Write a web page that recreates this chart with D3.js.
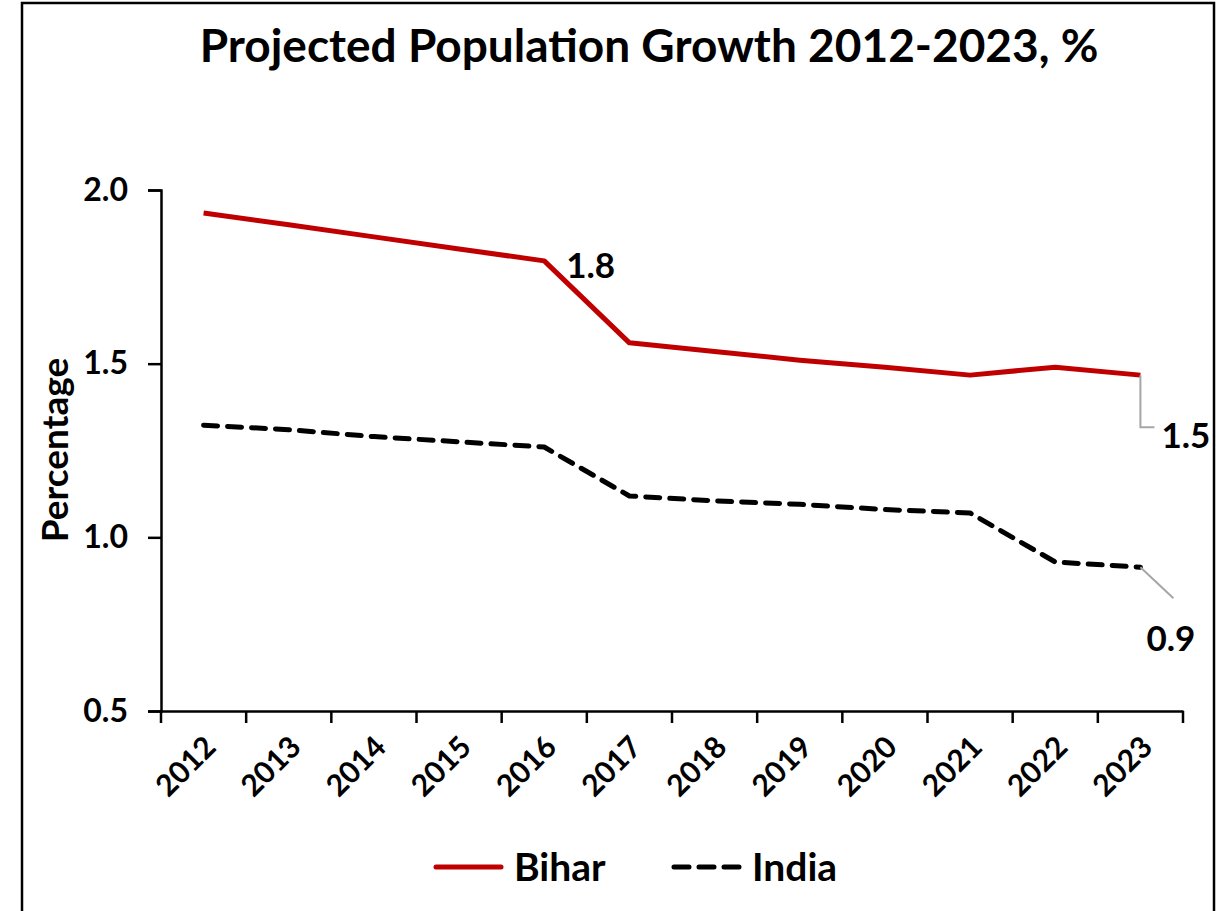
<!DOCTYPE html>
<html>
<head>
<meta charset="utf-8">
<script src="https://cdn.jsdelivr.net/npm/d3@7"></script>
<style>
  body { margin: 0; background: #fff; }
  svg { display: block; font-family: Lato, "Open Sans", sans-serif; }
</style>
</head>
<body>
<svg id="chart" width="1225" height="911"></svg>
<script>
const years = ["2012", "2013", "2014", "2015", "2016", "2017", "2018", "2019", "2020", "2021", "2022", "2023"];
const bihar = [1.934, 1.90, 1.865, 1.83, 1.796, 1.56, 1.535, 1.51, 1.49, 1.467, 1.49, 1.467];
const india = [1.323, 1.31, 1.29, 1.275, 1.26, 1.119, 1.105, 1.095, 1.08, 1.07, 0.929, 0.914];
const yTicks = [0.5, 1.0, 1.5, 2.0];
const seriesNames = ["Bihar", "India"];

const svg = d3.select("#chart");
const margin = { left: 161, right: 1183, top: 190, bottom: 711 };

// outer frame
svg.append("rect")
  .attr("x", 22).attr("y", 3).attr("width", 1192).attr("height", 930)
  .attr("fill", "none").attr("stroke", "#000").attr("stroke-width", 2.5);

svg.append("text")
  .attr("x", 649).attr("y", 62)
  .attr("text-anchor", "middle")
  .attr("font-size", 46).attr("font-weight", 700)
  .text("Projected Population Growth 2012-2023, %");

const x = d3.scaleBand().domain(years).range([margin.left, margin.right]);
const y = d3.scaleLinear().domain([0.5, 2.0]).range([margin.bottom, margin.top]);
const cx = d => x(d) + x.bandwidth() / 2;

// y axis
const yAxis = svg.append("g")
  .attr("transform", `translate(${margin.left},0)`)
  .call(d3.axisLeft(y).tickValues(yTicks).tickFormat(d3.format(".1f")).tickSize(13).tickPadding(20));
yAxis.select(".domain").attr("stroke-width", 2.5);
yAxis.selectAll(".tick line").attr("stroke-width", 2.5);
yAxis.selectAll("text").attr("font-size", 32).attr("font-weight", 700).attr("fill", "#000")
  .attr("font-family", "Lato, sans-serif");

// x axis with ticks at the band edges
const xAxis = svg.append("g")
  .attr("transform", `translate(0,${margin.bottom})`)
  .call(d3.axisBottom(x).tickSize(0).tickPadding(0));
xAxis.select(".domain").attr("stroke-width", 2.5);
xAxis.selectAll(".tick text").remove();
xAxis.selectAll(".edge")
  .data(years.concat(["end"]))
  .join("line")
  .attr("x1", (d, i) => margin.left + i * x.bandwidth())
  .attr("x2", (d, i) => margin.left + i * x.bandwidth())
  .attr("y1", 0).attr("y2", 12)
  .attr("stroke", "#000").attr("stroke-width", 2.5);

svg.append("g").selectAll("text")
  .data(years)
  .join("text")
  .attr("transform", d => `translate(${cx(d) + 14},${margin.bottom + 38}) rotate(-45)`)
  .attr("text-anchor", "end")
  .attr("font-size", 30).attr("font-weight", 700)
  .text(d => d);

// axis title
svg.append("text")
  .attr("transform", "translate(68,450) rotate(-90)")
  .attr("text-anchor", "middle")
  .attr("font-size", 37).attr("font-weight", 700)
  .text("Percentage");

const line = d3.line().x((d, i) => cx(years[i])).y(d => y(d));

svg.append("path")
  .datum(bihar)
  .attr("d", line)
  .attr("fill", "none").attr("stroke", "#C00000").attr("stroke-width", 5)
  .attr("stroke-linejoin", "round");

svg.append("path")
  .datum(india)
  .attr("d", line)
  .attr("fill", "none").attr("stroke", "#000").attr("stroke-width", 5)
  .attr("stroke-dasharray", "14,10").attr("stroke-linecap", "round")
  .attr("stroke-linejoin", "round");

// data labels
const last = years.length - 1;
svg.append("text")
  .attr("x", cx(years[4]) + 22).attr("y", y(bihar[4]) + 17)
  .attr("font-size", 35).attr("font-weight", 700)
  .text(d3.format(".1f")(bihar[4]));

svg.append("path")
  .attr("d", `M${cx(years[last])},${y(bihar[last])}V${y(bihar[last]) + 52}h14`)
  .attr("fill", "none").attr("stroke", "#a6a6a6").attr("stroke-width", 2);
svg.append("text")
  .attr("x", cx(years[last]) + 21).attr("y", y(bihar[last]) + 73)
  .attr("font-size", 35).attr("font-weight", 700)
  .text(d3.format(".1f")(bihar[last]));

svg.append("path")
  .attr("d", `M${cx(years[last])},${y(india[last])}l33,31`)
  .attr("fill", "none").attr("stroke", "#a6a6a6").attr("stroke-width", 2);
svg.append("text")
  .attr("x", cx(years[last]) + 6).attr("y", y(india[last]) + 84)
  .attr("font-size", 35).attr("font-weight", 700)
  .text(d3.format(".1f")(india[last]));

// legend
const legend = svg.append("g");
const legendItems = [
  { name: seriesNames[0], x: 436, color: "#C00000", dash: null },
  { name: seriesNames[1], x: 674, color: "#000", dash: "15,10" }
];
legendItems.forEach(it => {
  legend.append("line")
    .attr("x1", it.x).attr("x2", it.x + 65).attr("y1", 867).attr("y2", 867)
    .attr("stroke", it.color).attr("stroke-width", 5).attr("stroke-linecap", "round")
    .attr("stroke-dasharray", it.dash);
  legend.append("text")
    .attr("x", it.x + 78).attr("y", 881)
    .attr("font-size", 39).attr("font-weight", 700)
    .text(it.name);
});
</script>
</body>
</html>
